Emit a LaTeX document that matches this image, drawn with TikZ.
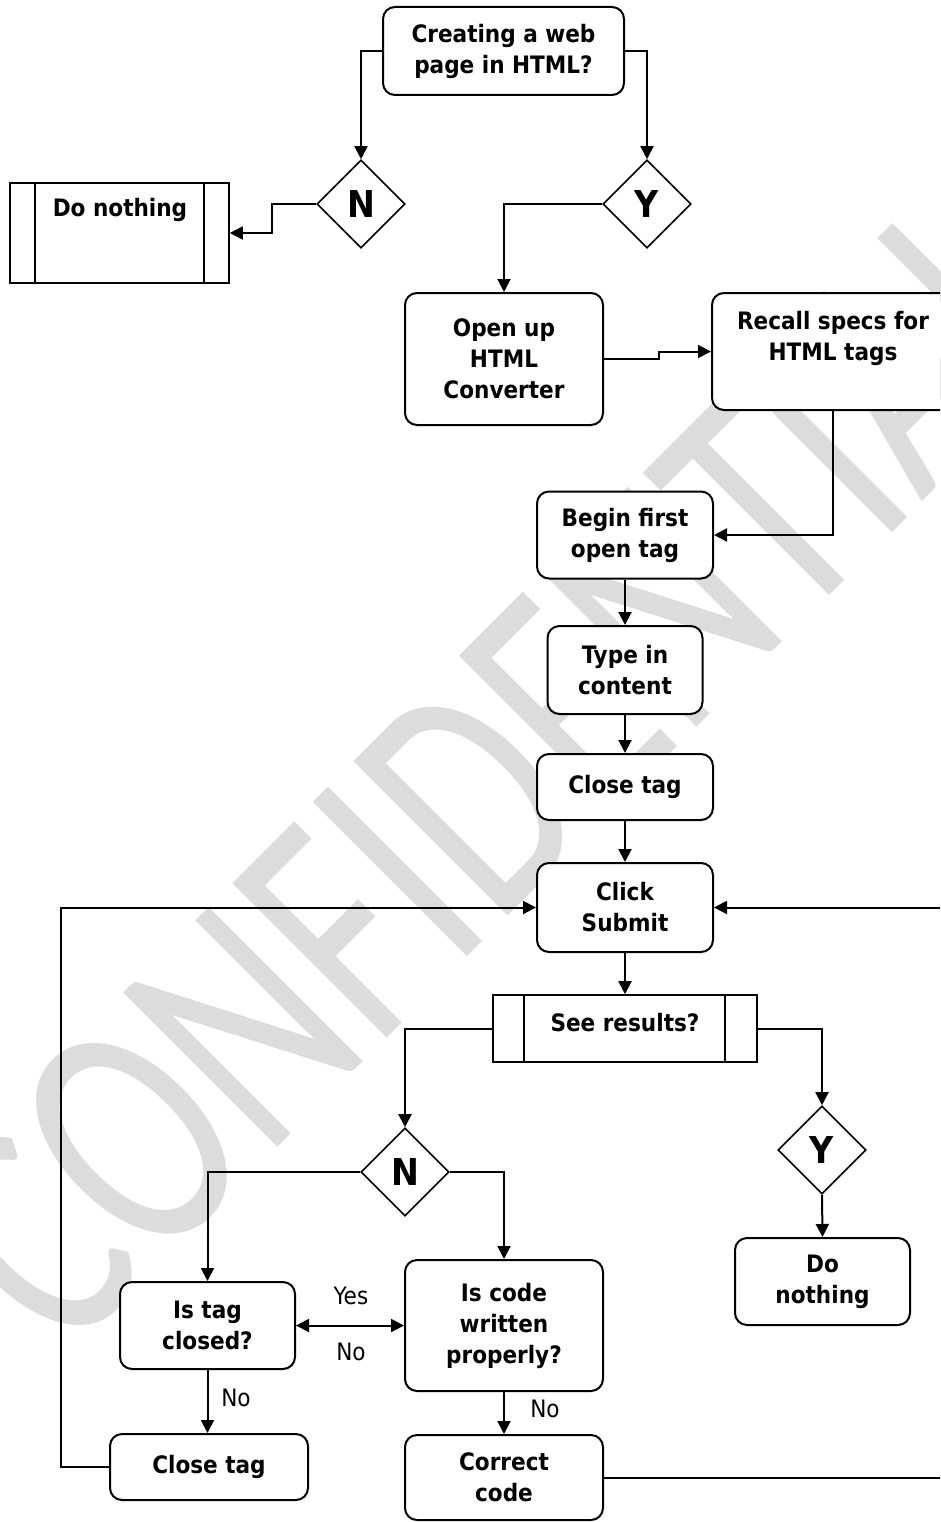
\documentclass[tikz,border=0pt]{standalone}
\usepackage{graphicx}
\usepackage{fontspec}
\setmainfont{DejaVu Sans Condensed}
\newfontfamily\wmfont{Carlito}
\usetikzlibrary{arrows.meta,shapes.geometric}
\definecolor{wmgray}{RGB}{220,220,220}
\begin{document}
\begin{tikzpicture}[x=1pt,y=-1pt,
  txt/.style={font=\bfseries\fontsize{24}{31}\selectfont, align=center, inner sep=0pt},
  rbox/.style={draw, line width=2pt, rounded corners=12pt, fill=white, inner sep=0pt,
    align=center, font=\bfseries\fontsize{24}{31}\selectfont},
  pbox/.style={draw, line width=1.6pt, fill=white, inner sep=0pt},
  dia/.style={draw, diamond, aspect=1, line width=1.6pt, fill=white, inner sep=0pt,
    minimum size=88pt, font=\bfseries\fontsize{37}{37}\selectfont},
  lbl/.style={font=\fontsize{24}{28}\selectfont, inner sep=0pt},
  conn/.style={line width=2pt},
  arr/.style={conn, -{Triangle[length=13pt,width=13pt]}},
  darr/.style={conn, {Triangle[length=13pt,width=13pt]}-{Triangle[length=13pt,width=13pt]}}
]
\useasboundingbox (0,0) rectangle (940,1522);
\clip (0,0) rectangle (940,1522);
\fill[white] (0,0) rectangle (940,1522);

% watermark
\node[text=wmgray, rotate=45, inner sep=0pt] (wm) at (500,770)
  {\scalebox{0.71}[1]{\wmfont\fontsize{340}{340}\selectfont CONFIDENTIAL}};

% nodes
\node[rbox, minimum width=241pt, minimum height=88pt] (cr) at (503.5,51) {Creating a web\\page in HTML?};
\node[dia] (n1) at (361,204) {N};
\node[dia] (y1) at (647,204) {Y};
\node[pbox, minimum width=219pt, minimum height=100pt] (dn1) at (119.5,233) {};
\draw[line width=1.6pt] ([xshift=26pt]dn1.north west) -- ([xshift=26pt]dn1.south west)
  ([xshift=-26pt]dn1.north east) -- ([xshift=-26pt]dn1.south east);
\node[txt] (dn1t) at (120,210) {Do nothing};

\node[rbox, minimum width=198pt, minimum height=132pt] (op) at (504,359) {Open up\\HTML\\Converter};
\node[rbox, minimum width=250pt, minimum height=117pt] (rec) at (837,351.5) {};
\node[txt] (rect) at (833,338) {Recall specs for\\HTML tags};

\node[rbox, minimum width=176pt, minimum height=87pt] (bg) at (625,535) {Begin first\\open tag};
\node[rbox, minimum width=155pt, minimum height=88pt] (ty) at (625,670) {Type in\\content};
\node[rbox, minimum width=176pt, minimum height=66pt] (ct) at (625,787) {Close tag};
\node[rbox, minimum width=176pt, minimum height=89pt] (cs) at (625,907.5) {Click\\Submit};

\node[pbox, minimum width=264pt, minimum height=67pt] (sr) at (625,1028.5) {};
\draw[line width=1.6pt] ([xshift=32pt]sr.north west) -- ([xshift=32pt]sr.south west)
  ([xshift=-33pt]sr.north east) -- ([xshift=-33pt]sr.south east);
\node[txt] (srt) at (625,1023) {See results?};

\node[dia] (n2) at (405,1172) {N};
\node[dia] (y2) at (822,1150) {Y};
\node[rbox, minimum width=175pt, minimum height=87pt] (dn2) at (822.5,1281.5) {Do\\nothing};
\node[rbox, minimum width=175pt, minimum height=87pt] (it) at (207.5,1325.5) {Is tag\\closed?};
\node[rbox, minimum width=198pt, minimum height=131pt] (ic) at (504,1325.5) {Is code\\written\\properly?};
\node[rbox, minimum width=198pt, minimum height=66pt] (cl) at (209,1467) {Close tag};
\node[rbox, minimum width=198pt, minimum height=85pt] (cc) at (504,1477.5) {Correct\\code};

% connectors
\draw[arr] (cr.west) -| (n1.north);
\draw[arr] (cr.east) -| (y1.north);
\draw[arr] (n1.west) -- ++(-44,0) |- (dn1.east);
\draw[arr] (y1.west) -| (op.north);
\draw[arr] (op.east) -- ++(55,0) |- (rec.west);
\draw[arr] (rect.south |- rec.south) |- (bg.east);
\draw[arr] (bg.south) -- (ty.north);
\draw[arr] (ty.south) -- (ct.north);
\draw[arr] (ct.south) -- (cs.north);
\draw[arr] (cs.south) -- (sr.north);
\draw[arr] (sr.west) -| (n2.north);
\draw[arr] (sr.east) -| (y2.north);
\draw[arr] (y2.south) -- (dn2.north);
\draw[arr] (n2.west) -| (it.north);
\draw[arr] (n2.east) -| (ic.north);
\draw[darr] (it.east) -- (ic.west);
\node[lbl] (yes) at (351,1296) {Yes};
\node[lbl] (no1) at (351,1352) {No};
\draw[arr] (it.south) -- (it.south |- cl.north);
\node[lbl] (no2) at (236,1398) {No};
\draw[arr] (ic.south) -- (cc.north);
\node[lbl] (no3) at (545,1409) {No};
\draw[arr] (cl.west) -- ++(-48,0) |- (cs.west);
\draw[arr] (cc.east) -- ++(357,0) |- (cs.east);
\end{tikzpicture}
\end{document}
